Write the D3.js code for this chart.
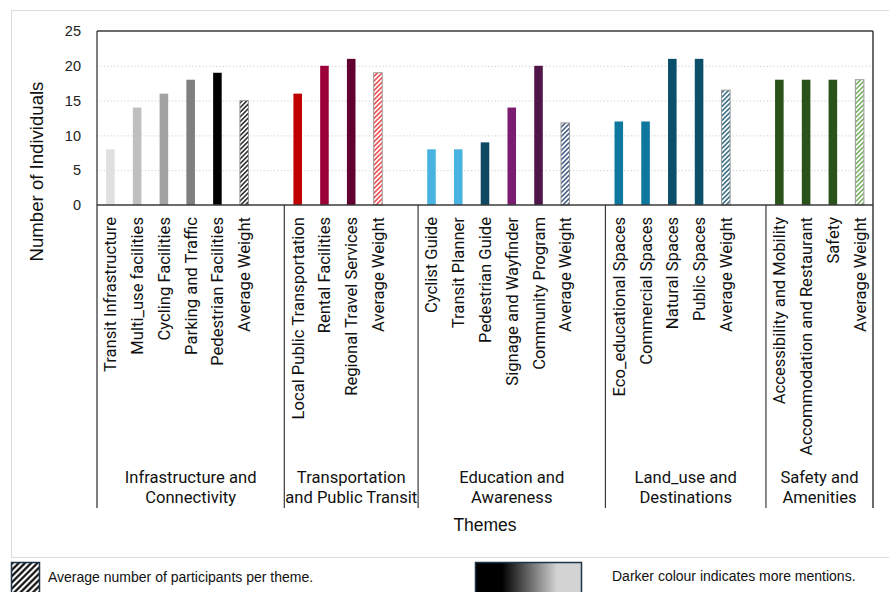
<!DOCTYPE html>
<html>
<head>
<meta charset="utf-8">
<script src="https://cdn.jsdelivr.net/npm/d3@7"></script>
<style>
  html, body { margin: 0; padding: 0; background: #ffffff; }
  svg { display: block; }
</style>
</head>
<body>
<svg id="chart" width="889" height="592"></svg>
<script>
// ---- data ----
const themeNames = [
  ["Infrastructure and", "Connectivity"],
  ["Transportation", "and Public Transit"],
  ["Education and", "Awareness"],
  ["Land_use and", "Destinations"],
  ["Safety and", "Amenities"]
];

const infrastructureLabels = ["Transit Infrastructure", "Multi_use facilities", "Cycling Facilities", "Parking and Traffic", "Pedestrian Facilities"];
const infrastructureValues = [8, 14, 16, 18, 19];

const transportLabels = ["Local Public Transportation", "Rental Facilities", "Regional Travel Services"];
const transportValues = [16, 20, 21];

const educationLabels = ["Cyclist Guide", "Transit Planner", "Pedestrian Guide", "Signage and Wayfinder", "Community Program"];
const educationValues = [8, 8, 9, 14, 20];

const landUseLabels = ["Eco_educational Spaces", "Commercial Spaces", "Natural Spaces", "Public Spaces"];
const landUseValues = [12, 12, 21, 21];

const safetyLabels = ["Accessibility and Mobility", "Accommodation and Restaurant", "Safety"];
const safetyValues = [18, 18, 18];

const averageLabel = "Average Weight";
const averageValues = [15, 19, 11.8, 16.5, 18];

const yTicks = [0, 5, 10, 15, 20, 25];

// ---- styles ----
const infrastructureColors = ["#e0e0e0", "#bfbfbf", "#a3a3a3", "#7f7f7f", "#000000"];
const transportColors = ["#c00000", "#9b0036", "#62002f"];
const educationColors = ["#48b2e0", "#48b2e0", "#0e4862", "#7a1d71", "#4f1748"];
const landUseColors = ["#0e77a0", "#0e77a0", "#0b4f6b", "#0b4f6b"];
const safetyColors = ["#2a531a", "#2a531a", "#2a531a"];
const hatchColors = ["#000000", "#e8262a", "#1f3b6e", "#0f4f6b", "#5aa040"];

const labelSets = [infrastructureLabels, transportLabels, educationLabels, landUseLabels, safetyLabels];
const valueSets = [infrastructureValues, transportValues, educationValues, landUseValues, safetyValues];
const colorSets = [infrastructureColors, transportColors, educationColors, landUseColors, safetyColors];

// ---- slot table built from the arrays ----
const slots = [];
labelSets.forEach((labels, t) => {
  labels.forEach((lab, j) => {
    slots.push({ key: `${t}-${j}`, theme: t, label: lab, value: valueSets[t][j], color: colorSets[t][j], avg: false });
  });
  slots.push({ key: `${t}-avg`, theme: t, label: averageLabel, value: averageValues[t], avg: true });
  if (t < labelSets.length - 1) slots.push({ key: `${t}-gap`, theme: t, label: "", value: null, gap: true });
});
const bars = slots.filter(d => !d.gap);

// ---- layout ----
const plot = { left: 97, right: 873, top: 31, bottom: 205, catBottom: 508 };

const svg = d3.select("#chart");
const arialFont = "'Liberation Sans', Arial, sans-serif";
const labelFont = "Roboto, 'Noto Sans', sans-serif";

const x = d3.scaleBand()
  .domain(slots.map(d => d.key))
  .range([plot.left, plot.right])
  .paddingInner(0.68)
  .paddingOuter(0.34);

const y = d3.scaleLinear().domain([0, 25]).range([plot.bottom, plot.top]);

const step = x.step();
const center = k => x(k) + x.bandwidth() / 2;

// hatch patterns
const defs = svg.append("defs");
hatchColors.forEach((c, i) => {
  const p = defs.append("pattern")
    .attr("id", `hatch-${i}`)
    .attr("patternUnits", "userSpaceOnUse")
    .attr("width", 3.3).attr("height", 3.3)
    .attr("patternTransform", "rotate(45)");
  p.append("rect").attr("width", 3.3).attr("height", 3.3).attr("fill", "#ffffff");
  p.append("line").attr("x1", 1.65).attr("y1", 0).attr("x2", 1.65).attr("y2", 3.3)
    .attr("stroke", c).attr("stroke-width", 1.3);
});
const lp = defs.append("pattern")
  .attr("id", "hatch-legend")
  .attr("patternUnits", "userSpaceOnUse")
  .attr("width", 4.4).attr("height", 4.4)
  .attr("patternTransform", "rotate(45)");
lp.append("rect").attr("width", 4.4).attr("height", 4.4).attr("fill", "#ffffff");
lp.append("line").attr("x1", 2.2).attr("y1", 0).attr("x2", 2.2).attr("y2", 4.4)
  .attr("stroke", "#000000").attr("stroke-width", 2.1);

const grad = defs.append("linearGradient").attr("id", "shade").attr("x1", "0%").attr("x2", "100%");
grad.append("stop").attr("offset", "0%").attr("stop-color", "#000000");
grad.append("stop").attr("offset", "25%").attr("stop-color", "#000000");
grad.append("stop").attr("offset", "77%").attr("stop-color", "#d3d3d3");
grad.append("stop").attr("offset", "100%").attr("stop-color", "#d3d3d3");

// outer chart frame
svg.append("rect")
  .attr("x", 11.5).attr("y", 10.5)
  .attr("width", 900).attr("height", 547)
  .attr("fill", "none").attr("stroke", "#dcdcdc").attr("stroke-width", 1);

// gridlines
svg.append("g")
  .attr("transform", `translate(${plot.left},0)`)
  .call(d3.axisLeft(y).tickValues(yTicks.filter(v => v > 0 && v < 25)).tickSize(-(plot.right - plot.left)).tickFormat(""))
  .call(g => g.select(".domain").remove())
  .call(g => g.selectAll("line").attr("stroke", "#cfcfcf").attr("stroke-dasharray", "1.2,2.2"));

// y tick labels
svg.append("g")
  .attr("transform", `translate(${plot.left},0)`)
  .call(d3.axisLeft(y).tickValues(yTicks).tickSize(0).tickPadding(16))
  .call(g => g.select(".domain").remove())
  .call(g => g.selectAll("text").attr("font-family", arialFont).attr("font-size", 14.5).attr("fill", "#222"));

// bars
svg.append("g").selectAll("rect")
  .data(bars)
  .join("rect")
  .attr("x", d => x(d.key))
  .attr("width", x.bandwidth())
  .attr("y", d => y(d.value))
  .attr("height", d => y(0) - y(d.value))
  .attr("fill", d => d.avg ? `url(#hatch-${d.theme})` : d.color)
  .attr("stroke", d => d.avg ? "#9a9a9a" : "none")
  .attr("stroke-width", 1);

// category labels
svg.append("g")
  .attr("transform", `translate(0,${plot.bottom})`)
  .call(d3.axisBottom(x).tickValues(bars.map(d => d.key)).tickSize(0)
    .tickFormat(k => slots.find(s => s.key === k).label))
  .call(g => g.select(".domain").remove())
  .call(g => g.selectAll("text")
    .attr("font-family", labelFont)
    .attr("font-size", 16.6)
    .attr("fill", "#111")
    .attr("text-anchor", "end")
    .attr("transform", "rotate(-90)")
    .attr("x", -12)
    .attr("y", 0)
    .attr("dy", "0.36em"));

// plot frame and category separators
const frame = svg.append("g").attr("stroke", "#3a3a3a").attr("fill", "none");
frame.append("line").attr("x1", plot.left).attr("x2", plot.right).attr("y1", plot.top).attr("y2", plot.top).attr("stroke-width", 1.5);
frame.append("line").attr("x1", plot.left).attr("x2", plot.right).attr("y1", plot.bottom).attr("y2", plot.bottom).attr("stroke-width", 1.3);
frame.append("line").attr("x1", plot.left).attr("x2", plot.left).attr("y1", plot.top).attr("y2", plot.catBottom).attr("stroke-width", 1.3);
frame.append("line").attr("x1", plot.right).attr("x2", plot.right).attr("y1", plot.top).attr("y2", plot.catBottom).attr("stroke-width", 1.5);

const gaps = slots.filter(d => d.gap);
frame.selectAll(".sep")
  .data(gaps)
  .join("line")
  .attr("x1", d => center(d.key) + step / 2)
  .attr("x2", d => center(d.key) + step / 2)
  .attr("y1", plot.bottom).attr("y2", plot.catBottom)
  .attr("stroke-width", 1.2);

// theme names centred under their span
const spans = themeNames.map((name, t) => {
  const ks = slots.filter(s => s.theme === t).map(s => s.key);
  const a = center(ks[0]) - step / 2;
  const b = center(ks[ks.length - 1]) + step / 2;
  return { name, mid: (a + b) / 2 };
});
const themeText = svg.append("g").selectAll("text")
  .data(spans)
  .join("text")
  .attr("x", d => d.mid)
  .attr("y", 483)
  .attr("text-anchor", "middle")
  .attr("font-family", labelFont)
  .attr("font-size", 16.6)
  .attr("fill", "#111");
themeText.selectAll("tspan")
  .data(d => d.name.map(line => ({ line, mid: d.mid })))
  .join("tspan")
  .attr("x", d => d.mid)
  .attr("dy", (d, i) => i === 0 ? 0 : 20)
  .text(d => d.line);

// axis titles
svg.append("text")
  .attr("transform", `translate(43,171.5) rotate(-90)`)
  .attr("text-anchor", "middle")
  .attr("font-family", arialFont)
  .attr("font-size", 18.6)
  .attr("fill", "#111")
  .text("Number of Individuals");

svg.append("text")
  .attr("x", 485).attr("y", 531)
  .attr("text-anchor", "middle")
  .attr("font-family", arialFont)
  .attr("font-size", 17.5)
  .attr("fill", "#111")
  .text("Themes");

// legend
svg.append("rect")
  .attr("x", 11.5).attr("y", 562.5).attr("width", 28).attr("height", 32)
  .attr("fill", "url(#hatch-legend)").attr("stroke", "#1d3547").attr("stroke-width", 1.5);
svg.append("text")
  .attr("x", 48).attr("y", 582)
  .attr("font-family", arialFont).attr("font-size", 14).attr("fill", "#111")
  .text("Average number of participants per theme.");

svg.append("rect")
  .attr("x", 475.5).attr("y", 562.5).attr("width", 106).attr("height", 32)
  .attr("fill", "url(#shade)").attr("stroke", "#1d3547").attr("stroke-width", 1.5);
svg.append("text")
  .attr("x", 612).attr("y", 581)
  .attr("font-family", arialFont).attr("font-size", 14).attr("fill", "#111")
  .text("Darker colour indicates more mentions.");
</script>
</body>
</html>
